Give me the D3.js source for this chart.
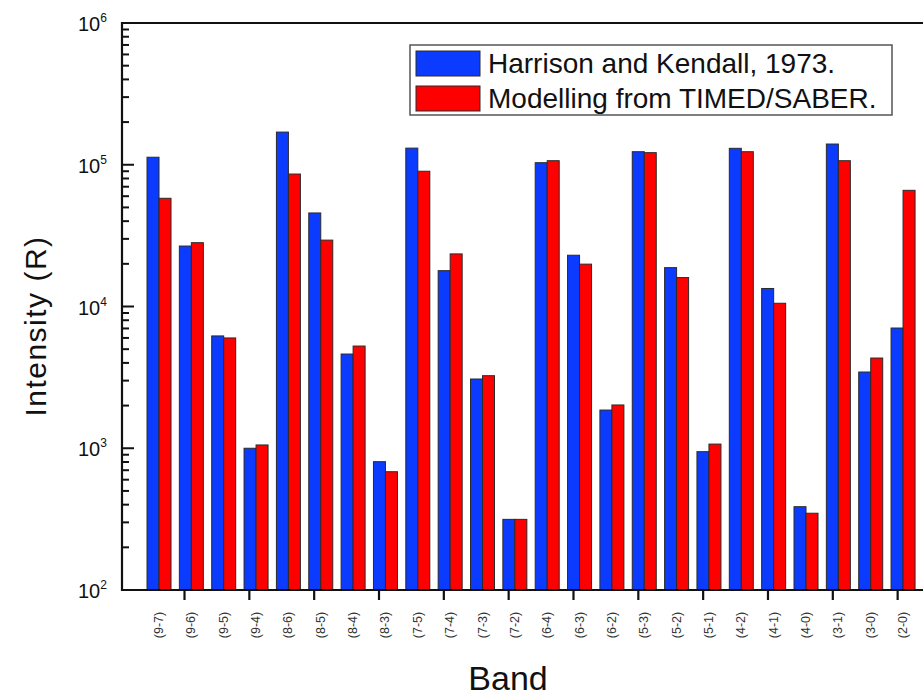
<!DOCTYPE html>
<html>
<head>
<meta charset="utf-8">
<script src="https://cdn.jsdelivr.net/npm/d3@7"></script>
<style>
  html, body { margin: 0; padding: 0; background: #fff; }
  svg { display: block; }
  text { font-family: "Liberation Sans", Arial, sans-serif; fill: #111; }
</style>
</head>
<body>
<svg id="chart" width="923" height="696"></svg>
<script>
// ---- data ----
const categories = ["(9-7)","(9-6)","(9-5)","(9-4)","(8-6)","(8-5)","(8-4)","(8-3)",
  "(7-5)","(7-4)","(7-3)","(7-2)","(6-4)","(6-3)","(6-2)","(5-3)","(5-2)","(5-1)",
  "(4-2)","(4-1)","(4-0)","(3-1)","(3-0)","(2-0)"];
const harrisonKendall = [1.13e5, 2.67e4, 6.2e3, 1000, 1.7e5, 4.57e4, 4.62e3, 804,
  1.31e5, 1.79e4, 3.08e3, 315, 1.034e5, 2.30e4, 1.86e3, 1.236e5, 1.88e4, 946,
  1.306e5, 1.34e4, 387, 1.40e5, 3.45e3, 7.05e3];
const timedSaber = [5.8e4, 2.82e4, 6.0e3, 1055, 8.6e4, 2.94e4, 5.26e3, 683,
  9.0e4, 2.35e4, 3.25e3, 315, 1.068e5, 1.99e4, 2.02e3, 1.217e5, 1.60e4, 1070,
  1.236e5, 1.054e4, 348, 1.068e5, 4.33e3, 6.6e4];
const seriesNames = ["Harrison and Kendall, 1973.", "Modelling from TIMED/SABER."];
const yTickValues = [1e2, 1e3, 1e4, 1e5, 1e6];
const yTickExponents = ["2", "3", "4", "5", "6"];
const xTitle = "Band";
const yTitle = "Intensity (R)";

(function () {
// ---- layout ----
const svg = d3.select("#chart");
const plotLeft = 122, plotTop = 23, plotBottom = 590;
const colors = ["#0b3bff", "#ff0000"];
const barW = 12;

const x = d3.scaleLinear().domain([-1.144, 24.5]).range([plotLeft, plotLeft + 32.35 * 25.644]);
const y = d3.scaleLog().domain([1e2, 1e6]).range([plotBottom, plotTop]);

// bars
const series = [harrisonKendall, timedSaber];
series.forEach((vals, s) => {
  svg.append("g").selectAll("rect").data(vals).join("rect")
    .attr("x", (d, i) => x(i) + (s === 0 ? -barW : 0))
    .attr("width", barW)
    .attr("y", d => y(d))
    .attr("height", d => y(1e2) - y(d))
    .attr("fill", colors[s])
    .attr("stroke", "#2a2a2a")
    .attr("stroke-width", 1);
});

// y axis ticks (inward)
const minorTicks = [];
for (let e = 2; e < 6; e++) for (let m = 2; m <= 9; m++) minorTicks.push(m * Math.pow(10, e));
const yAxisG = svg.append("g");
yAxisG.selectAll("line.minor").data(minorTicks).join("line").attr("class", "minor")
  .attr("x1", plotLeft).attr("x2", plotLeft + 7)
  .attr("y1", d => y(d)).attr("y2", d => y(d))
  .attr("stroke", "#111").attr("stroke-width", 2);
yAxisG.selectAll("line.major").data(yTickValues).join("line").attr("class", "major")
  .attr("x1", plotLeft).attr("x2", plotLeft + 12)
  .attr("y1", d => y(d)).attr("y2", d => y(d))
  .attr("stroke", "#111").attr("stroke-width", 2);
const yl = yAxisG.selectAll("text").data(yTickValues).join("text")
  .attr("x", 78).attr("y", d => y(d) + 8)
  .attr("font-size", 20);
yl.append("tspan").text("10");
yl.append("tspan").attr("dy", -9).attr("font-size", 12).text((d, i) => yTickExponents[i]);

// x axis (outward ticks)
const xTicks = d3.range(0.773, 24.5, 2.004);
const xAxis = d3.axisBottom(x).tickValues(xTicks).tickSize(10).tickFormat("");
const xg = svg.append("g").attr("transform", `translate(0,${plotBottom})`).call(xAxis);
xg.select(".domain").remove();
xg.selectAll(".tick line").attr("stroke", "#111").attr("stroke-width", 2.2);

// category labels
svg.append("g").selectAll("text").data(categories).join("text")
  .attr("transform", (d, i) => `translate(${x(i) + 4},625) rotate(-90)`)
  .attr("text-anchor", "middle")
  .attr("font-size", 12.5)
  .style("fill", "#333")
  .text(d => d);

// frame lines
svg.append("line").attr("x1", plotLeft).attr("x2", 923).attr("y1", plotBottom).attr("y2", plotBottom)
  .attr("stroke", "#111").attr("stroke-width", 2.2);
svg.append("line").attr("x1", plotLeft).attr("x2", 923).attr("y1", plotTop).attr("y2", plotTop)
  .attr("stroke", "#111").attr("stroke-width", 2.2);
svg.append("line").attr("x1", plotLeft).attr("x2", plotLeft).attr("y1", plotTop - 1).attr("y2", plotBottom + 1)
  .attr("stroke", "#111").attr("stroke-width", 2.2);

// titles
svg.append("text").attr("x", 508).attr("y", 690).attr("text-anchor", "middle")
  .attr("font-size", 34).text(xTitle);
svg.append("text").attr("transform", "translate(46,326) rotate(-90)")
  .attr("text-anchor", "middle").attr("font-size", 30).attr("letter-spacing", 1.5)
  .text(yTitle);

// legend
const lg = svg.append("g");
lg.append("rect").attr("x", 410).attr("y", 45).attr("width", 482).attr("height", 70)
  .attr("fill", "#fff").attr("stroke", "#555").attr("stroke-width", 1.5);
seriesNames.forEach((name, s) => {
  lg.append("rect").attr("x", 416).attr("y", 51 + s * 35).attr("width", 64).attr("height", 25)
    .attr("fill", colors[s]).attr("stroke", "#2a2a2a").attr("stroke-width", 1);
  lg.append("text").attr("x", 488).attr("y", 73 + s * 35).attr("font-size", 28).text(name);
});
})();
</script>
</body>
</html>
